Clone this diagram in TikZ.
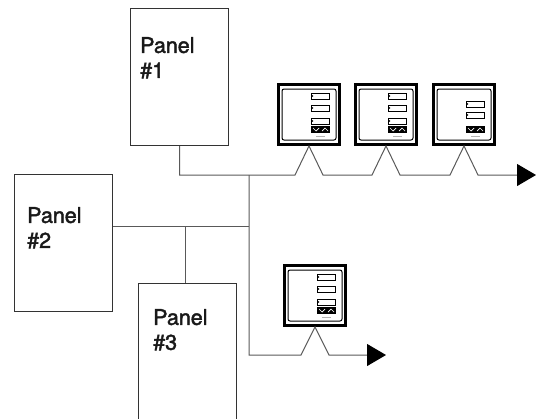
\documentclass[tikz,border=0pt]{standalone}
\usepackage{fontspec}
\setmainfont{TeX Gyre Heros}
\newfontfamily\panelfont[FakeBold=2]{TeX Gyre Heros}
\usetikzlibrary{arrows.meta}
\definecolor{wiregray}{rgb}{0.35,0.35,0.35}
\definecolor{boxgray}{rgb}{0.2,0.2,0.2}

\begin{document}
\begin{tikzpicture}[x=1pt, y=-1pt,
  panel/.style={draw=boxgray, line width=1.2pt, minimum width=98pt, minimum height=137pt, inner sep=0pt, anchor=north west},
  paneltext/.style={anchor=north west, inner sep=0pt, align=left, text=black!90, font=\panelfont\fontsize{21.5}{25}\selectfont},
  meter/.style={draw=black, line width=3pt, minimum width=61pt, minimum height=60pt, inner sep=0pt, anchor=north west},
  wire/.style={draw=wiregray, line width=1pt},
  tip/.style={-{Triangle[length=19pt, width=22pt, color=black]}}]

\useasboundingbox (0,0) rectangle (543,418);

% panels
\node[panel] (p1) at (130,8) {};
\node[panel] (p2) at (14,174) {};
\node[panel] (p3) at (138,283) {};
\node[paneltext] (t1) at ([shift={(10,29)}]p1.north west) {Panel\\\#1};
\node[paneltext] (t2) at ([shift={(13,33)}]p2.north west) {Panel\\\#2};
\node[paneltext] (t3) at ([shift={(15,26)}]p3.north west) {Panel\\\#3};

% meters
\foreach \m/\x/\y/\disp in {m1/277/83/{10,22,35}, m2/354/83/{10,22,35}, m3/432/83/{18,29}, m4/283/264/{10,22,35}} {
  \node[meter] (\m) at (\x,\y) {};
  \draw[line width=1pt, rounded corners=2pt] ([shift={(5,6)}]\m.north west) rectangle ([shift={(59,57)}]\m.north west);
  \foreach \d in \disp {
    \draw[line width=1pt] ([shift={(34,\d)}]\m.north west) rectangle ++(18,6);
    \fill ([shift={(35.5,\d+3)}]\m.north west) circle (0.8);
  }
  \fill ([shift={(34,43)}]\m.north west) rectangle ++(19,7);
  \draw[white, line width=0.7pt] ([shift={(36,45)}]\m.north west) -- ++(3,3) -- ++(3,-3);
  \draw[white, line width=0.7pt] ([shift={(45,48)}]\m.north west) -- ++(3,-3) -- ++(3,3);
  \draw[gray!60, line width=0.5pt] ([shift={(39,53)}]\m.north west) -- ++(9,0);
}

% wiring
\coordinate (bus) at (249,175);
\coordinate (tap) at (249,226);
\coordinate (low) at (249,355);
\coordinate (end1) at (536,175);
\coordinate (end2) at (386,355);

\draw[wire, tip] (p1.south) |- ([xshift=-14pt]m1.south |- bus) -- (m1.south) -- ([xshift=14pt]m1.south |- bus)
  -- ([xshift=-14pt]m2.south |- bus) -- (m2.south) -- ([xshift=14pt]m2.south |- bus)
  -- ([xshift=-14pt]m3.south |- bus) -- (m3.south) -- ([xshift=14pt]m3.south |- bus) -- (end1);
\draw[wire, tip] (bus) -- (low) -- ([xshift=-14pt]m4.south |- low) -- (m4.south) -- ([xshift=14pt]m4.south |- low) -- (end2);
\draw[wire] (p2.east |- tap) -- (tap);
\draw[wire] ([xshift=-2pt]p3.north) -- ([xshift=-2pt]p3.north |- tap);

\end{tikzpicture}
\end{document}
